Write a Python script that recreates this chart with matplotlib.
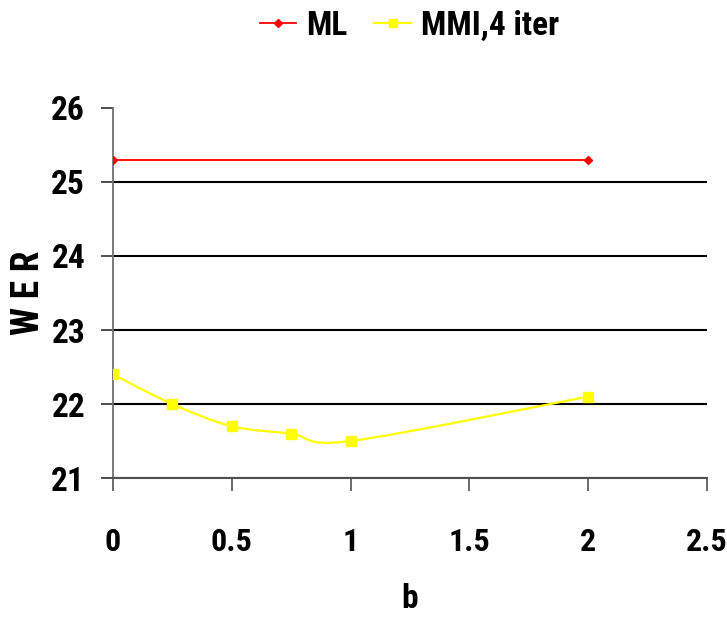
import numpy as np
import matplotlib.pyplot as plt
from matplotlib.path import Path
from matplotlib.patches import PathPatch
from matplotlib.lines import Line2D

plt.rcParams['font.family'] = ['Roboto Condensed', 'PT Sans Narrow', 'DejaVu Sans']
plt.rcParams['font.weight'] = 'bold'

# WER against b
b_ml = [0, 2]
wer_ml = [25.3, 25.3]
b_mmi = [0, 0.25, 0.5, 0.75, 1, 2]
wer_mmi = [22.4, 22.0, 21.7, 21.6, 21.5, 22.1]


def smooth_path(x, y):
    # spreadsheet-style smoothed line: cubic Bezier segments with control
    # points taken from neighbouring points (tension 1/6)
    p = np.column_stack([x, y]).astype(float)
    n = len(p)
    verts = [p[0]]
    codes = [Path.MOVETO]
    for i in range(n - 1):
        p0 = p[i - 1] if i > 0 else p[i]
        p3 = p[i + 2] if i + 2 < n else p[i + 1]
        c1 = p[i] + (p[i + 1] - p0) / 6
        c2 = p[i + 1] - (p3 - p[i]) / 6
        verts += [c1, c2, p[i + 1]]
        codes += [Path.CURVE4] * 3
    return Path(verts, codes)


fig = plt.figure(figsize=(7.27, 6.23), dpi=100)
ax = fig.add_axes([0.1554, 0.2327, 0.817, 0.594])

red = '#ff0000'
yellow = '#ffff00'

ax.plot(b_ml, wer_ml, color=red, lw=1.3, marker='D', ms=4.5, zorder=4)
ax.add_patch(PathPatch(smooth_path(b_mmi, wer_mmi), fc='none', ec=yellow,
                       lw=1.6, zorder=4))
ax.plot(b_mmi, wer_mmi, ls='none', marker='s', ms=7, color=yellow, zorder=5)

ax.set_xlim(0, 2.5)
ax.set_ylim(21, 26)
ax.set_xticks([0, 0.5, 1, 1.5, 2, 2.5])
ax.set_xticklabels(['0', '0.5', '1', '1.5', '2', '2.5'])
ax.set_yticks([21, 22, 23, 24, 25, 26])

ax.yaxis.grid(True, color='black', lw=1.5)
ax.set_axisbelow(True)
ax.yaxis.get_gridlines()[-1].set_visible(False)

for s in ['top', 'right']:
    ax.spines[s].set_visible(False)
ax.spines['left'].set_color('#707070')
ax.spines['bottom'].set_color('#505050')
ax.spines['left'].set_linewidth(1.3)
ax.spines['bottom'].set_linewidth(1.5)

ax.tick_params(axis='y', direction='out', length=9, width=1.2, color='#303030',
               labelsize=24, pad=11)
ax.tick_params(axis='x', direction='out', length=9, width=1.2, color='#505050',
               labelsize=23, pad=26)
for lab in ax.get_xticklabels() + ax.get_yticklabels():
    lab.set_fontweight('bold')

ax.set_xlabel('b', fontsize=24, fontweight='bold', labelpad=19)
ax.set_ylabel('W E R', fontsize=27, fontweight='bold', labelpad=3)

handles = [Line2D([], [], color=red, lw=1.3, marker='D', ms=4.5),
           Line2D([], [], color=yellow, lw=1.6, marker='s', ms=6)]
fig.legend(handles, ['ML', 'MMI,4 iter'], loc='center', ncol=2,
           bbox_to_anchor=(0.563, 0.958), frameon=False,
           handlelength=1.1, handletextpad=0.3, columnspacing=0.8,
           prop={'weight': 'bold', 'size': 24})

fig.savefig('out.png', dpi=100)
